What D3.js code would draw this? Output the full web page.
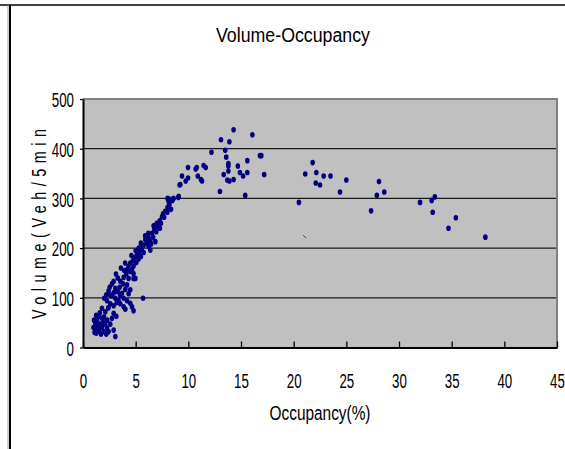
<!DOCTYPE html>
<html>
<head>
<meta charset="utf-8">
<script src="https://cdn.jsdelivr.net/npm/d3@7"></script>
<style>
  body { margin: 0; background: #fff; }
  svg { display: block; font-family: "Liberation Sans", Arial, sans-serif; }
</style>
</head>
<body>
<svg id="chart" width="565" height="449"></svg>
<script>
// values (occupancy %, volume veh/5min)
const occupancy = [
  1.0, 1.1, 1.17, 1.17, 1.27, 1.33, 1.33, 1.48, 1.48, 1.64, 1.71, 1.8, 1.8, 1.8, 1.96, 1.96,
  2.02, 2.12, 2.12, 2.21, 2.21, 2.28, 2.28, 2.43, 2.43, 2.53, 2.59, 2.59, 2.75, 2.75, 2.75,
  2.91, 2.91, 2.91, 2.91, 2.91, 3.07, 3.07, 3.07, 3.13, 3.16, 3.29, 3.38, 3.48, 3.54, 3.54,
  3.54, 3.7, 3.8, 3.86, 3.86, 3.86, 3.92, 4.02, 4.02, 4.11, 4.18, 4.18, 4.18, 4.33, 4.33,
  4.33, 4.49, 4.49, 4.49, 4.49, 4.65, 4.65, 4.75, 4.8, 4.8, 4.8, 4.8, 4.97, 4.97, 5.06,
  5.13, 5.28, 5.38, 5.5, 5.6, 5.7, 5.76, 5.76, 5.92, 6.08, 6.23, 6.23, 6.39, 6.39, 6.46,
  6.55, 6.65, 6.77, 6.87, 6.96, 7.08, 7.28, 7.4, 7.5, 7.6, 7.8, 8.03, 8.03, 8.13, 8.2,
  8.29, 8.45, 8.3, 8.36, 8.48, 9.05, 9.08, 9.17, 9.24, 9.4, 9.75, 9.97, 9.97, 10.7, 10.8,
  10.9, 11.2, 11.3, 11.45, 11.65, 12.2, 13.0, 13.1, 13.36, 13.5, 13.6, 13.7, 13.8, 13.8,
  13.8, 13.9, 13.9, 14.3, 14.3, 14.7, 14.9, 15.2, 15.4, 15.6, 15.6, 16.08, 16.93, 16.8,
  17.2, 20.5, 21.1, 21.8, 22.15, 22.1, 22.5, 22.85, 23.5, 24.4, 25.0, 27.35, 27.9, 28.1,
  28.6, 32.0, 33.1, 33.4, 33.2, 34.7, 35.4, 38.2,
  1.05, 1.4, 1.55, 1.6, 2.0, 2.3, 1.25, 2.4, 3.3, 3.6, 4.0, 4.6, 5.0, 5.3, 5.5, 5.9, 6.2,
  6.7, 7.0, 7.3, 7.7, 8.0, 8.6, 2.6, 3.2, 2.4
];
const volume = [
  40, 30, 49, 37, 29, 55, 42, 63, 34, 47, 27, 79, 59, 41, 52, 32,
  99, 72, 47, 106, 27, 94, 39, 114, 32, 121, 88, 47, 128, 104, 59,
  133, 110, 84, 69, 35, 119, 99, 22, 148, 63, 112, 94, 121, 133, 104,
  88, 109, 128, 141, 99, 82, 155, 117, 77, 148, 157, 126, 94, 164, 139,
  108, 170, 153, 116, 89, 157, 82, 175, 164, 149, 139, 74, 182, 139, 171,
  186, 178, 193, 183, 200, 99, 206, 191, 217, 210, 220, 203, 215, 196, 208,
  230, 222, 237, 213, 233, 243, 255, 250, 263, 269, 274, 282, 300, 294, 287,
  298, 296, 296, 278, 296, 302, 304, 327, 328, 345, 335, 341, 362, 359, 362,
  345, 338, 335, 366, 362, 393, 314, 418, 348, 397, 383, 337, 370, 365,
  355, 414, 335, 438, 338, 365, 352, 345, 306, 376, 352, 428, 386, 386,
  348, 292, 349, 372, 352, 331, 327, 345, 345, 313, 337, 275, 306, 334,
  313, 292, 296, 303, 272, 240, 261, 222,
  55, 48, 38, 70, 62, 55, 65, 80, 140, 160, 170, 185, 195, 200, 210, 225, 230,
  245, 250, 240, 262, 272, 300, 105, 90, 80
];
// small stray mark near (21, 223)
const stray = [[20.9, 226], [21.2, 220]];

const xTicks = [0, 5, 10, 15, 20, 25, 30, 35, 40, 45];
const yTicks = [0, 100, 200, 300, 400, 500];

const svg = d3.select("#chart");
const plotLeft = 83, plotRight = 557, plotTop = 99, plotBottom = 347.5;

const x = d3.scaleLinear().domain([0, 45]).range([plotLeft, plotRight]);
const y = d3.scaleLinear().domain([0, 500]).range([plotBottom, plotTop]);

// outer frame bits
svg.append("line").attr("x1", 0).attr("x2", 565).attr("y1", 5).attr("y2", 5)
  .attr("stroke", "#000").attr("stroke-width", 1.5);
svg.append("line").attr("x1", 8).attr("x2", 8).attr("y1", 5).attr("y2", 449)
  .attr("stroke", "#999").attr("stroke-width", 1);
svg.append("line").attr("x1", 10).attr("x2", 10).attr("y1", 5).attr("y2", 449)
  .attr("stroke", "#000").attr("stroke-width", 2);

// plot area
svg.append("rect")
  .attr("x", plotLeft).attr("y", plotTop)
  .attr("width", plotRight - plotLeft).attr("height", plotBottom - plotTop)
  .attr("fill", "#c0c0c0");

svg.append("g").selectAll("line")
  .data(yTicks.filter(d => d > 0 && d < 500))
  .join("line")
    .attr("x1", plotLeft).attr("x2", plotRight)
    .attr("y1", d => y(d)).attr("y2", d => y(d))
    .attr("stroke", "#1a1a1a").attr("stroke-width", 1.2);

svg.append("path")
  .attr("d", `M${plotLeft},${plotTop}H${plotRight}V${plotBottom}`)
  .attr("fill", "none").attr("stroke", "#808080").attr("stroke-width", 2);

const fmtLen = d => String(d).length * 7.4;

svg.append("g")
  .attr("transform", `translate(0,${plotBottom})`)
  .call(d3.axisBottom(x).tickValues(xTicks).tickSizeInner(-6).tickSizeOuter(0).tickPadding(26))
  .call(g => g.select(".domain").attr("stroke", "#000").attr("stroke-width", 2))
  .call(g => g.selectAll(".tick line").attr("stroke", "#000").attr("stroke-width", 1.3))
  .call(g => g.selectAll("text")
    .attr("fill", "#000").attr("font-size", 20)
    .attr("textLength", fmtLen).attr("lengthAdjust", "spacingAndGlyphs")
    .attr("font-family", "Liberation Sans, Arial, sans-serif"));

svg.append("g")
  .attr("transform", `translate(${plotLeft},0)`)
  .call(d3.axisLeft(y).tickValues(yTicks).tickSizeInner(3).tickSizeOuter(0).tickPadding(6))
  .call(g => g.select(".domain").attr("stroke", "#000").attr("stroke-width", 2))
  .call(g => g.selectAll(".tick line").attr("stroke", "#000").attr("stroke-width", 1.3))
  .call(g => g.selectAll("text")
    .attr("fill", "#000").attr("font-size", 20).attr("dy", "0.38em")
    .attr("textLength", fmtLen).attr("lengthAdjust", "spacingAndGlyphs")
    .attr("font-family", "Liberation Sans, Arial, sans-serif"));

// points
svg.append("g").selectAll("ellipse")
  .data(occupancy.map((o, i) => [o, volume[i]]))
  .join("ellipse")
    .attr("cx", d => x(d[0])).attr("cy", d => y(d[1]))
    .attr("rx", 2.3).attr("ry", 2.8)
    .attr("fill", "#000080");

svg.append("line")
  .attr("x1", x(stray[0][0])).attr("y1", y(stray[0][1]))
  .attr("x2", x(stray[1][0])).attr("y2", y(stray[1][1]))
  .attr("stroke", "#444").attr("stroke-width", 1);

// titles
svg.append("text")
  .attr("x", 293).attr("y", 42).attr("text-anchor", "middle")
  .attr("font-size", 20).attr("textLength", 154).attr("lengthAdjust", "spacingAndGlyphs")
  .text("Volume-Occupancy");

svg.append("text")
  .attr("x", 320).attr("y", 420).attr("text-anchor", "middle")
  .attr("font-size", 20).attr("textLength", 101).attr("lengthAdjust", "spacingAndGlyphs")
  .text("Occupancy(%)");

// y title: narrow glyphs, wide spacing, like the reference
svg.append("text")
  .attr("transform", "translate(46,224) rotate(-90) scale(0.72,1)")
  .attr("text-anchor", "middle")
  .attr("font-size", 20).attr("textLength", 264).attr("lengthAdjust", "spacing")
  .text("Volume(Veh/5min");
</script>
</body>
</html>
